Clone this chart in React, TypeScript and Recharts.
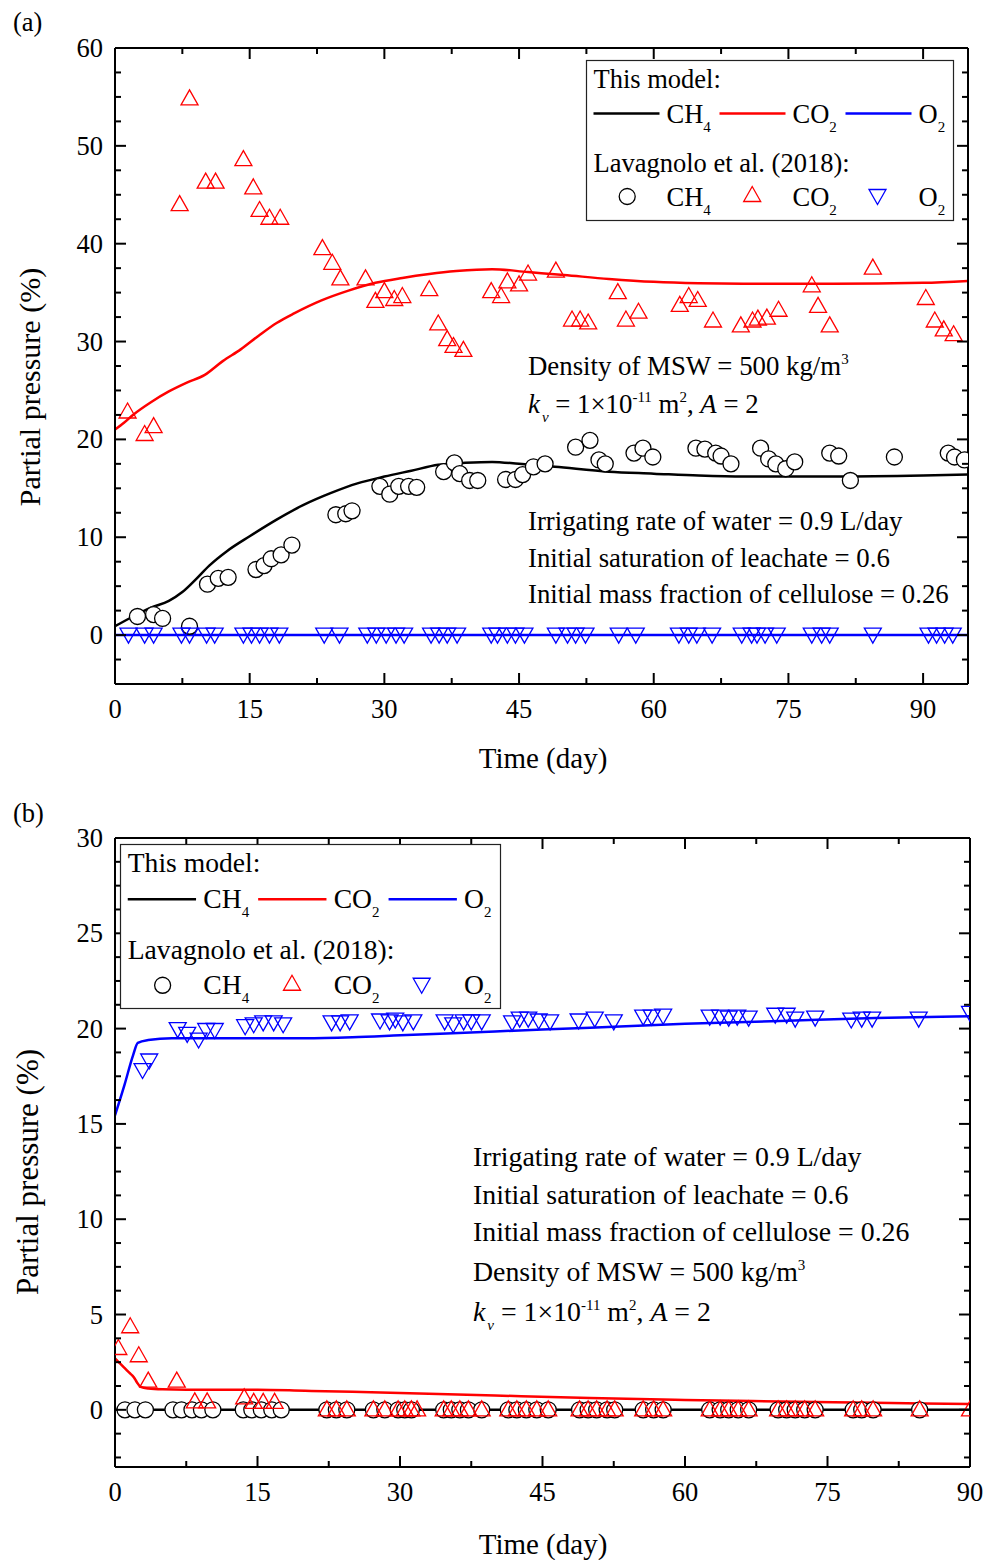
import { ComposedChart, Line, Scatter, XAxis, YAxis } from "recharts";

const FONT = '"Liberation Serif", "Times New Roman", Times, serif';

type Pt = [number, number];

// ---- panel (a): model curves (day, %)
const ch4ModelA: Pt[] = [
  [0, 0.9], [2, 1.9], [4, 2.8], [6, 3.5], [7.5, 4.4], [9, 5.7], [10.5, 7.1], [12.5, 8.6],
  [15, 10.1], [18, 11.8], [21, 13.3], [24, 14.5], [27, 15.5], [30, 16.2], [33, 16.8],
  [36, 17.4], [39, 17.6], [42, 17.7], [45, 17.5], [49, 17.2], [55, 16.7], [60, 16.5],
  [65, 16.3], [70, 16.2], [80, 16.2], [90, 16.3], [95, 16.4],
];
const co2ModelA: Pt[] = [
  [0, 21.0], [1, 21.7], [2, 22.5], [4, 23.8], [6, 24.9], [8, 25.8], [10, 26.6], [12, 28.0],
  [14, 29.2], [16, 30.6], [18, 31.9], [20, 32.9], [23, 34.2], [26, 35.2], [29, 36.0],
  [32, 36.5], [35, 36.9], [38, 37.2], [42, 37.4], [46, 37.1], [50, 36.8], [55, 36.4],
  [60, 36.1], [65, 35.95], [70, 35.9], [80, 35.9], [90, 36.0], [95, 36.2],
];
const o2ModelA: Pt[] = [[0, 0], [95, 0]];

// ---- panel (a): Lavagnolo et al. (2018)
const ch4ObsA: Pt[] = [
  [2.5, 1.9], [4.3, 2.1], [5.3, 1.7], [8.3, 0.9], [10.3, 5.2], [11.5, 5.8], [12.6, 5.9],
  [15.7, 6.7], [16.6, 7.1], [17.4, 7.8], [18.5, 8.2], [19.7, 9.2], [24.6, 12.3], [25.7, 12.4],
  [26.4, 12.7], [29.5, 15.2], [30.6, 14.4], [31.6, 15.2], [32.7, 15.2], [33.6, 15.1],
  [36.6, 16.7], [37.8, 17.6], [38.4, 16.5], [39.5, 15.8], [40.4, 15.8], [43.5, 15.9],
  [44.6, 15.9], [45.4, 16.4], [46.6, 17.2], [47.9, 17.5], [51.3, 19.2], [52.9, 19.9],
  [53.9, 17.9], [54.6, 17.5], [57.8, 18.6], [58.8, 19.1], [59.9, 18.2], [64.7, 19.1],
  [65.7, 19.0], [66.9, 18.6], [67.5, 18.3], [68.6, 17.5], [71.9, 19.1], [72.8, 18.0],
  [73.6, 17.5], [74.7, 17.0], [75.7, 17.7], [79.6, 18.6], [80.6, 18.3], [81.9, 15.8],
  [86.8, 18.2], [92.8, 18.6], [93.5, 18.2], [94.6, 17.9],
];
const co2ObsA: Pt[] = [
  [1.4, 22.9], [3.3, 20.6], [4.3, 21.4], [7.2, 44.1], [8.3, 54.9], [10.1, 46.4], [11.2, 46.4],
  [14.3, 48.7], [15.4, 45.8], [16.1, 43.5], [17.2, 42.7], [18.4, 42.7], [23.1, 39.6],
  [24.2, 38.1], [25.1, 36.5], [27.9, 36.5], [29.0, 34.2], [30.0, 35.2], [31.1, 34.4],
  [32.0, 34.7], [35.0, 35.4], [36.0, 31.9], [37.0, 30.3], [37.7, 29.6], [38.8, 29.2],
  [41.9, 35.2], [43.0, 34.7], [43.7, 36.2], [45.0, 35.9], [46.0, 37.0], [49.1, 37.3],
  [50.9, 32.3], [51.8, 32.3], [52.7, 32.0], [56.0, 35.1], [56.9, 32.3], [58.3, 33.1],
  [62.9, 33.8], [63.9, 34.7], [64.9, 34.3], [66.6, 32.2], [69.7, 31.7], [71.0, 32.2],
  [71.6, 32.4], [72.6, 32.5], [73.9, 33.3], [77.6, 35.8], [78.3, 33.7], [79.6, 31.7],
  [84.4, 37.6], [90.3, 34.5], [91.3, 32.2], [92.3, 31.3], [93.4, 30.8],
];
const o2ObsA: Pt[] = [
  [1.5, 0], [3.3, 0], [4.3, 0], [7.4, 0], [8.3, 0], [10.2, 0], [11.1, 0], [14.3, 0], [15.2, 0],
  [16.1, 0], [17.2, 0], [18.3, 0], [23.3, 0], [25.0, 0], [28.1, 0], [29.1, 0], [30.2, 0],
  [31.3, 0], [32.2, 0], [35.2, 0], [36.1, 0], [37.0, 0], [38.1, 0], [41.9, 0], [42.6, 0],
  [43.7, 0], [44.6, 0], [45.6, 0], [49.1, 0], [50.4, 0], [51.3, 0], [52.4, 0], [56.1, 0],
  [58.0, 0], [62.8, 0], [63.9, 0], [64.8, 0], [66.5, 0], [69.8, 0], [70.9, 0], [71.5, 0],
  [72.4, 0], [73.7, 0], [77.6, 0], [78.7, 0], [79.6, 0], [84.4, 0], [90.6, 0], [91.5, 0],
  [92.4, 0], [93.3, 0],
];

// ---- panel (b): model curves
const ch4ModelB: Pt[] = [[0, 0], [90, 0]];
const co2ModelB: Pt[] = [
  [0, 2.7], [0.5, 2.45], [1, 2.2], [1.5, 1.95], [2, 1.7], [2.3, 1.45], [2.7, 1.2], [3.5, 1.12],
  [5, 1.08], [10, 1.05], [15, 1.05], [20, 1.0], [25, 0.95], [30, 0.88], [40, 0.75],
  [50, 0.62], [60, 0.52], [70, 0.44], [80, 0.37], [90, 0.3],
];
const o2ModelB: Pt[] = [
  [0, 15.45], [1, 17.05], [1.9, 18.6], [2.4, 19.25], [3.5, 19.4], [6, 19.5], [10, 19.5],
  [15, 19.5], [20, 19.5], [25, 19.55], [30, 19.65], [40, 19.85], [50, 20.05], [60, 20.25],
  [70, 20.4], [80, 20.55], [90, 20.65],
];

// ---- panel (b): Lavagnolo et al. (2018)
const ch4ObsB: Pt[] = [
  [1.05, 0], [2.1, 0], [3.2, 0], [6.1, 0], [7.0, 0], [8.1, 0], [9.1, 0], [10.3, 0], [13.5, 0],
  [14.4, 0], [15.4, 0], [16.5, 0], [17.5, 0], [22.3, 0], [23.3, 0], [24.4, 0], [27.2, 0],
  [28.4, 0], [29.8, 0], [30.5, 0], [31.2, 0], [34.6, 0], [35.4, 0], [36.3, 0], [37.2, 0],
  [38.6, 0], [41.4, 0], [42.3, 0], [43.3, 0], [44.4, 0], [45.6, 0], [48.9, 0], [49.8, 0],
  [50.7, 0], [51.8, 0], [52.6, 0], [55.6, 0], [56.7, 0], [57.7, 0], [62.6, 0], [63.7, 0],
  [64.6, 0], [65.6, 0], [66.7, 0], [69.8, 0], [70.7, 0], [71.6, 0], [72.6, 0], [73.7, 0],
  [77.7, 0], [78.6, 0], [79.8, 0], [84.7, 0],
];
const co2ObsB: Pt[] = [
  [0.35, 3.27], [1.6, 4.41], [2.5, 2.89], [3.5, 1.56], [6.5, 1.56], [8.4, 0.47], [9.7, 0.47],
  [13.6, 0.68], [14.6, 0.44], [15.6, 0.44], [16.8, 0.44], [22.3, 0.05], [23.3, 0.05],
  [24.4, 0.05], [27.2, 0.05], [28.4, 0.05], [29.8, 0.05], [30.5, 0.05], [31.2, 0.05],
  [31.8, 0.05], [34.6, 0.05], [35.4, 0.05], [36.3, 0.05], [37.2, 0.05], [38.6, 0.05],
  [41.4, 0.05], [42.3, 0.05], [43.3, 0.05], [44.4, 0.05], [45.6, 0.05], [48.9, 0.05],
  [49.8, 0.05], [50.7, 0.05], [51.8, 0.05], [52.6, 0.05], [55.6, 0.05], [56.7, 0.05],
  [57.7, 0.05], [62.6, 0.05], [63.7, 0.05], [64.6, 0.05], [65.6, 0.05], [66.7, 0.05],
  [69.8, 0.05], [70.7, 0.05], [71.6, 0.05], [72.6, 0.05], [73.7, 0.05], [77.7, 0.05],
  [78.6, 0.05], [79.8, 0.05], [84.7, 0.05], [90, 0.05],
];
const o2ObsB: Pt[] = [
  [2.9, 17.8], [3.6, 18.3], [6.6, 19.95], [7.6, 19.7], [8.8, 19.4], [9.6, 19.9], [10.5, 19.9],
  [13.7, 20.1], [14.6, 20.2], [15.6, 20.3], [16.7, 20.3], [17.7, 20.2], [22.8, 20.3],
  [23.7, 20.3], [24.7, 20.35], [27.9, 20.4], [28.9, 20.35], [29.5, 20.45], [30.3, 20.3],
  [31.4, 20.35], [34.7, 20.35], [35.6, 20.2], [36.7, 20.35], [37.5, 20.35], [38.6, 20.35],
  [41.8, 20.3], [42.6, 20.5], [43.5, 20.5], [44.6, 20.4], [45.8, 20.35], [48.8, 20.4],
  [50.5, 20.5], [52.5, 20.35], [55.6, 20.6], [56.5, 20.6], [57.7, 20.65], [62.6, 20.6],
  [63.7, 20.6], [64.6, 20.55], [65.5, 20.6], [66.7, 20.55], [69.5, 20.7], [70.7, 20.7],
  [71.6, 20.5], [73.7, 20.55], [77.5, 20.45], [78.6, 20.5], [79.7, 20.5], [84.6, 20.5],
  [90, 20.8],
];

// ---- axis ticks
const xMajorA = [0, 15, 30, 45, 60, 75, 90];
const xMinorA = [7.5, 22.5, 37.5, 52.5, 67.5, 82.5];
const yMajorA = [0, 10, 20, 30, 40, 50, 60];
const yMinorA = [-2.5, 2.5, 5, 7.5, 12.5, 15, 17.5, 22.5, 25, 27.5, 32.5, 35, 37.5, 42.5, 45, 47.5, 52.5, 55, 57.5];
const xMajorB = [0, 15, 30, 45, 60, 75, 90];
const xMinorB = [7.5, 22.5, 37.5, 52.5, 67.5, 82.5];
const yMajorB = [0, 5, 10, 15, 20, 25, 30];
const yMinorB = [-2.5, -1.25, 1.25, 2.5, 3.75, 6.25, 7.5, 8.75, 11.25, 12.5, 13.75, 16.25, 17.5, 18.75, 21.25, 22.5, 23.75, 26.25, 27.5, 28.75];

const toXY = (pts: Pt[]) => pts.map(([x, y]) => ({ x, y }));

type Side = "bottom" | "top" | "left" | "right";

const tickRenderer = (side: Side, majors: number[], label: boolean) => (props: any) => {
  const { x, y, payload } = props;
  const v = payload.value as number;
  const major = majors.some((m) => Math.abs(m - v) < 1e-6);
  const len = major ? 11 : 6;
  let x2 = x;
  let y2 = y;
  if (side === "bottom") y2 = y - len;
  if (side === "top") y2 = y + len;
  if (side === "left") x2 = x + len;
  if (side === "right") x2 = x - len;
  return (
    <g>
      <line x1={x} y1={y} x2={x2} y2={y2} stroke="#000" strokeWidth={2} />
      {label && major && side === "bottom" && (
        <text x={x} y={y + 34} textAnchor="middle" fontFamily={FONT} fontSize={26.5} fill="#000">
          {v}
        </text>
      )}
      {label && major && side === "left" && (
        <text x={x - 12} y={y + 9} textAnchor="end" fontFamily={FONT} fontSize={26.5} fill="#000">
          {v}
        </text>
      )}
    </g>
  );
};

const Ring = (p: any) => (
  <circle cx={p.cx} cy={p.cy} r={8} fill="#fff" stroke="#000" strokeWidth={1.3} />
);
const TriUp = (p: any) => (
  <path
    d={`M${p.cx},${p.cy - 8} L${p.cx + 8.5},${p.cy + 7} L${p.cx - 8.5},${p.cy + 7} Z`}
    fill="none"
    stroke="#ff0000"
    strokeWidth={1.3}
  />
);
const TriDown = (p: any) => (
  <path
    d={`M${p.cx},${p.cy + 8} L${p.cx + 8.5},${p.cy - 7} L${p.cx - 8.5},${p.cy - 7} Z`}
    fill="none"
    stroke="#0000ff"
    strokeWidth={1.3}
  />
);

interface PanelProps {
  top: number;
  height: number;
  topH: number;
  bottomH: number;
  rightW: number;
  xMax: number;
  yMin: number;
  yMax: number;
  xMajor: number[];
  xMinor: number[];
  yMajor: number[];
  yMinor: number[];
  ch4Model: Pt[];
  co2Model: Pt[];
  o2Model: Pt[];
  ch4Obs: Pt[];
  co2Obs: Pt[];
  o2Obs: Pt[];
}

function Panel(p: PanelProps) {
  const xTicks = [...p.xMajor, ...p.xMinor].sort((a, b) => a - b);
  const yTicks = [...p.yMajor, ...p.yMinor].sort((a, b) => a - b);
  const axisLine = { stroke: "#000", strokeWidth: 2 };
  const common = { type: "number" as const, allowDataOverflow: true, interval: 0 as const, tickLine: false, tickSize: 0, tickMargin: 0, axisLine };
  return (
    <div style={{ position: "absolute", left: 0, top: p.top, width: 1000, height: p.height }}>
      <ComposedChart width={1000} height={p.height} margin={{ top: 0, right: 0, bottom: 0, left: 0 }}>
        <XAxis xAxisId="b" dataKey="x" orientation="bottom" height={p.bottomH} domain={[0, p.xMax]} ticks={xTicks} tick={tickRenderer("bottom", p.xMajor, true)} {...common} />
        <XAxis xAxisId="t" dataKey="x" orientation="top" height={p.topH} domain={[0, p.xMax]} ticks={xTicks} tick={tickRenderer("top", p.xMajor, false)} {...common} />
        <YAxis yAxisId="l" dataKey="y" orientation="left" width={115} domain={[p.yMin, p.yMax]} ticks={yTicks} tick={tickRenderer("left", p.yMajor, true)} {...common} />
        <YAxis yAxisId="r" dataKey="y" orientation="right" width={p.rightW} domain={[p.yMin, p.yMax]} ticks={yTicks} tick={tickRenderer("right", p.yMajor, false)} {...common} />

        <Line data={toXY(p.ch4Model)} dataKey="y" xAxisId="b" yAxisId="l" type="monotone" stroke="#000" strokeWidth={2.5} dot={false} isAnimationActive={false} />
        <Line data={toXY(p.co2Model)} dataKey="y" xAxisId="b" yAxisId="l" type="monotone" stroke="#ff0000" strokeWidth={2.5} dot={false} isAnimationActive={false} />
        <Line data={toXY(p.o2Model)} dataKey="y" xAxisId="b" yAxisId="l" type="monotone" stroke="#0000ff" strokeWidth={2.5} dot={false} isAnimationActive={false} />

        <Scatter data={toXY(p.ch4Obs)} xAxisId="b" yAxisId="l" shape={Ring} isAnimationActive={false} />
        <Scatter data={toXY(p.co2Obs)} xAxisId="b" yAxisId="l" shape={TriUp} isAnimationActive={false} />
        <Scatter data={toXY(p.o2Obs)} xAxisId="b" yAxisId="l" shape={TriDown} isAnimationActive={false} />
      </ComposedChart>
    </div>
  );
}

const Gas = ({ x, y, base, sub }: { x: number; y: number; base: string; sub: string }) => (
  <text x={x} y={y}>
    {base}
    <tspan fontSize={15} dy={9}>{sub}</tspan>
  </text>
);

function LegendBox({ x, y, w, h, k, fs }: { x: number; y: number; w: number; h: number; k: number; fs: number }) {
  const X = (v: number) => x + v * k;
  const Y = (v: number) => y + v * k;
  const r2 = Y(53);
  const r4 = Y(136);
  return (
    <g fontFamily={FONT} fontSize={fs} fill="#000">
      <rect x={x} y={y} width={w} height={h} fill="#fff" stroke="#222" strokeWidth={1.2} />
      <text x={X(7)} y={Y(18) + 9}>This model:</text>
      <line x1={X(7)} x2={X(73)} y1={r2} y2={r2} stroke="#000" strokeWidth={2.5} />
      <Gas x={X(80)} y={r2 + 9} base="CH" sub="4" />
      <line x1={X(133)} x2={X(199)} y1={r2} y2={r2} stroke="#ff0000" strokeWidth={2.5} />
      <Gas x={X(206)} y={r2 + 9} base="CO" sub="2" />
      <line x1={X(259)} x2={X(325)} y1={r2} y2={r2} stroke="#0000ff" strokeWidth={2.5} />
      <Gas x={X(332)} y={r2 + 9} base="O" sub="2" />
      <text x={X(7)} y={Y(102) + 9}>Lavagnolo et al. (2018):</text>
      <Ring cx={X(40.7)} cy={r4} />
      <Gas x={X(80)} y={r4 + 9} base="CH" sub="4" />
      <TriUp cx={X(165.7)} cy={r4 - 2} />
      <Gas x={X(206)} y={r4 + 9} base="CO" sub="2" />
      <TriDown cx={X(291)} cy={r4} />
      <Gas x={X(332)} y={r4 + 9} base="O" sub="2" />
    </g>
  );
}

const Density = ({ x, y }: { x: number; y: number }) => (
  <text x={x} y={y}>
    Density of MSW = 500 kg/m<tspan fontSize={15} dy={-11}>3</tspan>
  </text>
);
const Perm = ({ x, y }: { x: number; y: number }) => (
  <text x={x} y={y}>
    <tspan fontStyle="italic">k</tspan>
    <tspan fontSize={15} fontStyle="italic" dy={9} dx={2}>v</tspan>
    <tspan dy={-9}> = 1×10</tspan>
    <tspan fontSize={15} dy={-11}>-11</tspan>
    <tspan dy={11}> m</tspan>
    <tspan fontSize={15} dy={-11}>2</tspan>
    <tspan dy={11}>, </tspan>
    <tspan fontStyle="italic">A</tspan>
    <tspan> = 2</tspan>
  </text>
);

function Overlay() {
  return (
    <svg width={1000} height={1560} style={{ position: "absolute", left: 0, top: 0, pointerEvents: "none" }}>
      <g fontFamily={FONT} fontSize={26.5} fill="#000">
        <text x={13} y={31}>(a)</text>
        <text x={13} y={822}>(b)</text>

        <text x={543} y={768} fontSize={29} textAnchor="middle">Time (day)</text>
        <text x={543} y={1554} fontSize={29} textAnchor="middle">Time (day)</text>
        <text transform="translate(40,387) rotate(-90)" fontSize={30} textAnchor="middle">Partial pressure (%)</text>
        <text transform="translate(38,1172) rotate(-90)" fontSize={31} textAnchor="middle">Partial pressure (%)</text>

        <g fontSize={26.8}>
          <Density x={528} y={375} />
          <Perm x={528} y={413} />
          <text x={528} y={530}>Irrigating rate of water = 0.9 L/day</text>
          <text x={528} y={567}>Initial saturation of leachate = 0.6</text>
          <text x={528} y={603}>Initial mass fraction of cellulose = 0.26</text>
        </g>

        <g fontSize={27.8}>
          <text x={473} y={1166}>Irrigating rate of water = 0.9 L/day</text>
          <text x={473} y={1204}>Initial saturation of leachate = 0.6</text>
          <text x={473} y={1241}>Initial mass fraction of cellulose = 0.26</text>
          <Density x={473} y={1281} />
          <Perm x={473} y={1321} />
        </g>
      </g>
      <LegendBox x={586.5} y={60.5} w={367} h={160} k={1} fs={26.5} />
      <LegendBox x={120.5} y={844.5} w={380} h={164} k={1.035} fs={27.6} />
    </svg>
  );
}

export default function App() {
  return (
    <div style={{ position: "absolute", left: 0, top: 0, width: 1000, height: 1560, background: "#fff" }}>
      <Panel
        top={0} height={740} topH={48} bottomH={56} rightW={32}
        xMax={95} yMin={-5} yMax={60}
        xMajor={xMajorA} xMinor={xMinorA} yMajor={yMajorA} yMinor={yMinorA}
        ch4Model={ch4ModelA} co2Model={co2ModelA} o2Model={o2ModelA}
        ch4Obs={ch4ObsA} co2Obs={co2ObsA} o2Obs={o2ObsA}
      />
      <Panel
        top={780} height={780} topH={58} bottomH={93} rightW={30}
        xMax={90} yMin={-3} yMax={30}
        xMajor={xMajorB} xMinor={xMinorB} yMajor={yMajorB} yMinor={yMinorB}
        ch4Model={ch4ModelB} co2Model={co2ModelB} o2Model={o2ModelB}
        ch4Obs={ch4ObsB} co2Obs={co2ObsB} o2Obs={o2ObsB}
      />
      <Overlay />
    </div>
  );
}
